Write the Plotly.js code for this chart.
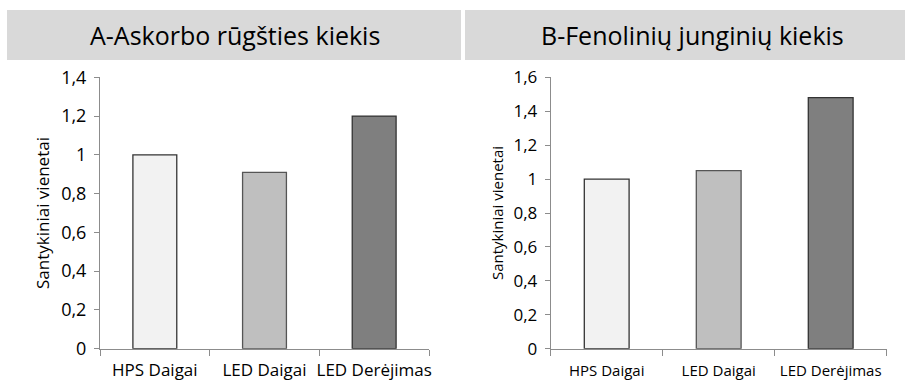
<!DOCTYPE html>
<html>
<head>
<meta charset="utf-8">
<script src="https://cdn.plot.ly/plotly-3.0.1.min.js"></script>
<style>html,body{margin:0;padding:0;background:#fff;}#chart{width:905px;height:382px;}</style>
</head>
<body>
<div id="chart"></div>
<script>
const categories = ["HPS Daigai", "LED Daigai", "LED Derėjimas"];
const askorboValues = [1.0, 0.91, 1.2];
const fenoliniuValues = [1.0, 1.05, 1.48];
const barColors = ["#f2f2f2", "#bfbfbf", "#7f7f7f"];
const barOutlines = ["#333333", "#555555", "#333333"];
const titleA = "A-Askorbo rūgšties kiekis";
const titleB = "B-Fenolinių junginių kiekis";
const yTitle = "Santykiniai vienetai";
const ticksA = [0, 0.2, 0.4, 0.6, 0.8, 1, 1.2, 1.4];
const ticksB = [0, 0.2, 0.4, 0.6, 0.8, 1, 1.2, 1.4, 1.6];
const fmt = v => String(v).replace(".", ",");

const W = 905, H = 382;
const px = x => x / W;
const py = y => 1 - y / H;
const FONT = "Open Sans, sans-serif";

const traces = [
  {type: "bar", x: categories, y: askorboValues, xaxis: "x", yaxis: "y",
   marker: {color: barColors, line: {color: barOutlines, width: 1.3}}, hoverinfo: "none"},
  {type: "bar", x: categories, y: fenoliniuValues, xaxis: "x2", yaxis: "y2",
   marker: {color: barColors, line: {color: barOutlines, width: 1.3}}, hoverinfo: "none"}
];

const xCommon = {type: "category", showgrid: false, zeroline: false, showline: true,
  linecolor: "#8c8c8c", linewidth: 1, ticks: "outside", tickson: "boundaries",
  ticklen: 6, tickcolor: "#8c8c8c", tickangle: 0, fixedrange: true};
const yCommon = {showgrid: false, zeroline: false, showline: true, linecolor: "#8c8c8c",
  linewidth: 1, ticks: "outside", ticklen: 5, tickcolor: "#8c8c8c", fixedrange: true};

const layout = {
  width: W, height: H, margin: {l: 0, r: 0, t: 0, b: 0},
  paper_bgcolor: "#fff", plot_bgcolor: "rgba(0,0,0,0)",
  showlegend: false, bargap: 0.6,
  font: {family: FONT, color: "#000"},
  xaxis: Object.assign({}, xCommon, {domain: [px(100), px(429)], anchor: "y",
    ticklabelstandoff: 6, tickfont: {size: 17, family: FONT, color: "#000"}}),
  yaxis: Object.assign({}, yCommon, {domain: [py(348.7), py(77.3)], anchor: "x",
    range: [0, 1.4], tickvals: ticksA, ticktext: ticksA.map(fmt), ticklabelstandoff: 4,
    tickfont: {size: 18, family: FONT, color: "#000"}}),
  xaxis2: Object.assign({}, xCommon, {domain: [px(550.7), px(886.7)], anchor: "y2",
    ticklabelstandoff: 8, tickfont: {size: 15, family: FONT, color: "#000"}}),
  yaxis2: Object.assign({}, yCommon, {domain: [py(348.7), py(77.3)], anchor: "x2",
    range: [0, 1.6], tickvals: ticksB, ticktext: ticksB.map(fmt), ticklabelstandoff: 4,
    tickfont: {size: 17, family: FONT, color: "#000"}}),
  shapes: [
    {type: "rect", xref: "paper", yref: "paper", x0: px(7), x1: px(461), y0: py(60), y1: py(10),
     fillcolor: "#d9d9d9", line: {width: 0}, layer: "below"},
    {type: "rect", xref: "paper", yref: "paper", x0: px(465), x1: px(905), y0: py(60), y1: py(10),
     fillcolor: "#d9d9d9", line: {width: 0}, layer: "below"}
  ],
  annotations: [
    {text: titleA, xref: "paper", yref: "paper", x: px(235), y: py(35), showarrow: false,
     xanchor: "center", yanchor: "middle", font: {size: 25, family: FONT, color: "#000"}},
    {text: titleB, xref: "paper", yref: "paper", x: px(692), y: py(35), showarrow: false,
     xanchor: "center", yanchor: "middle", font: {size: 25, family: FONT, color: "#000"}},
    {text: yTitle, xref: "paper", yref: "paper", x: px(42), y: py(213), showarrow: false,
     textangle: -90, xanchor: "center", yanchor: "middle", font: {size: 17, family: FONT, color: "#000"}},
    {text: yTitle, xref: "paper", yref: "paper", x: px(497), y: py(213), showarrow: false,
     textangle: -90, xanchor: "center", yanchor: "middle", font: {size: 15, family: FONT, color: "#000"}}
  ]
};

Plotly.newPlot("chart", traces, layout, {staticPlot: true, displayModeBar: false});
</script>
</body>
</html>
